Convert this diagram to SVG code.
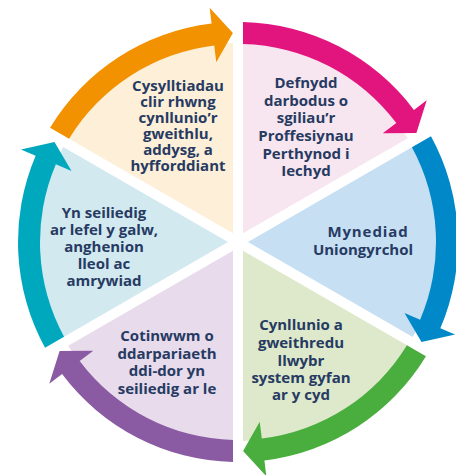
<svg xmlns="http://www.w3.org/2000/svg" xmlns:xlink="http://www.w3.org/1999/xlink" width="456" height="475" viewBox="0 0 456 475">
<style>
text{font-family:"Open Sans","Noto Sans","Liberation Sans",sans-serif;font-weight:700;font-size:15px;fill:#263A62;text-anchor:middle}
.fo{fill:#FDEFD8}.fp{fill:#F7E6EF}.fb{fill:#C6DFF3}.fg{fill:#DDE9CA}.fu{fill:#E7DBEC}.ft{fill:#D2E9F0}
.ao{fill:#F39200}.ap{fill:#E2147E}.ab{fill:#0088C9}.ag{fill:#4AAE3F}.au{fill:#8A5BA3}.at{fill:#00A8BE}
</style>
<defs>
<path id="wedge" d="M243 233.34 L243 43.06 A199 199 0 0 1 407.77 138.18 Z"/>
<path id="arrow" d="M243 22.06 A220 220 0 0 1 413.93 109.91 L426.73 100.31 L416.40 133.11 L382.75 133.33 L396.34 123.12 A198 198 0 0 0 243 44.06 Z"/>
</defs>
<rect width="456" height="475" fill="#FFFFFF"/>
<g id="node-prudent">
<use xlink:href="#wedge" class="fp"/>
<text><tspan x="306" y="88">Defnydd</tspan><tspan x="306" y="105.7">darbodus o</tspan><tspan x="306" y="123.4">sgiliau’r</tspan><tspan x="306" y="141">Proffesiynau</tspan><tspan x="306" y="158.7">Perthynod i</tspan><tspan x="306" y="176.4">Iechyd</tspan></text>
</g>
<g id="node-direct">
<use xlink:href="#wedge" class="fb" transform="rotate(60 238 242)"/>
<text><tspan x="368" y="237" letter-spacing="0.9">Mynediad</tspan><tspan x="363" y="255">Uniongyrchol</tspan></text>
</g>
<g id="node-pathway">
<use xlink:href="#wedge" class="fg" transform="rotate(120 238 242)"/>
<text><tspan x="301" y="330">Cynllunio a</tspan><tspan x="301" y="348">gweithredu</tspan><tspan x="301" y="366">llwybr</tspan><tspan x="301" y="383">system gyfan</tspan><tspan x="301" y="400">ar y cyd</tspan></text>
</g>
<g id="node-continuum">
<use xlink:href="#wedge" class="fu" transform="rotate(180 238 242)"/>
<text><tspan x="167" y="341">Cotinwwm o</tspan><tspan x="167" y="358.5">ddarpariaeth</tspan><tspan x="167" y="376">ddi-dor yn</tspan><tspan x="167" y="394">seiliedig ar le</tspan></text>
</g>
<g id="node-demand">
<use xlink:href="#wedge" class="ft" transform="rotate(240 238 242)"/>
<text><tspan x="104" y="218">Yn seiliedig</tspan><tspan x="104" y="235">ar lefel y galw,</tspan><tspan x="104" y="252">anghenion</tspan><tspan x="104" y="269">lleol ac</tspan><tspan x="104" y="286">amrywiad</tspan></text>
</g>
<g id="node-links">
<use xlink:href="#wedge" class="fo" transform="rotate(300 238 242)"/>
<text><tspan x="178" y="91">Cysylltiadau</tspan><tspan x="178" y="107">clir rhwng</tspan><tspan x="178" y="123">cynllunio’r</tspan><tspan x="178" y="139">gweithlu,</tspan><tspan x="178" y="155">addysg, a</tspan><tspan x="178" y="171">hyfforddiant</tspan></text>
</g>
<g id="connectors">
<use xlink:href="#arrow" class="ap"/>
<use xlink:href="#arrow" class="ab" transform="rotate(60 238 242)"/>
<use xlink:href="#arrow" class="ag" transform="rotate(120 238 242)"/>
<use xlink:href="#arrow" class="au" transform="rotate(180 238 242)"/>
<use xlink:href="#arrow" class="at" transform="rotate(240 238 242)"/>
<use xlink:href="#arrow" class="ao" transform="rotate(300 238 242)"/>
</g>
</svg>
